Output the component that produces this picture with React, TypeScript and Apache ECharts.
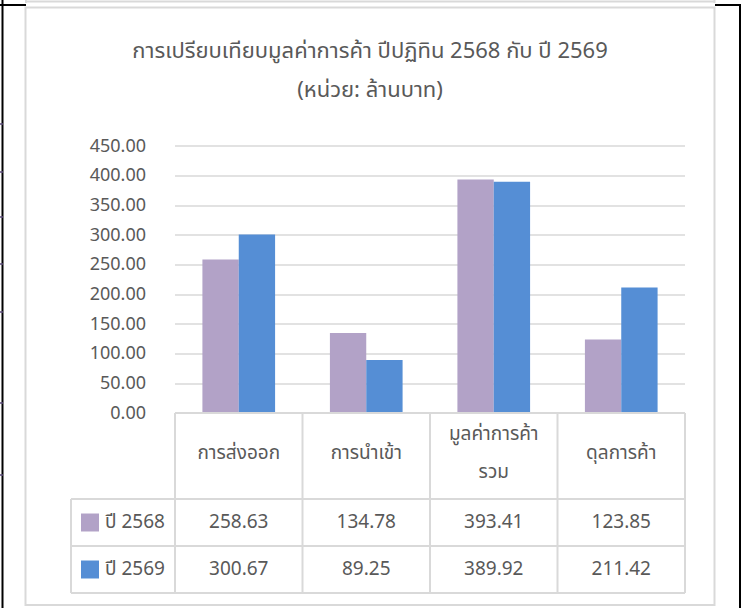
import React, { useEffect, useRef } from "react";
import * as echarts from "echarts";

const titleLines = ["การเปรียบเทียบมูลค่าการค้า ปีปฏิทิน 2568 กับ ปี 2569", "(หน่วย: ล้านบาท)"];
const categories = ["การส่งออก", "การนำเข้า", "มูลค่าการค้ารวม", "ดุลการค้า"];
const seriesNames = ["ปี 2568", "ปี 2569"];
const values2568 = [258.63, 134.78, 393.41, 123.85];
const values2569 = [300.67, 89.25, 389.92, 211.42];
const yTicks = [0, 50, 100, 150, 200, 250, 300, 350, 400, 450];

const COLORS = ["#B2A2C7", "#558ED5"];
const TEXT = "#595959";
const GRID = "#d9d9d9";
const FONT = "'Noto Sans Thai', 'Leelawadee UI', Tahoma, 'Noto Sans', 'DejaVu Sans', sans-serif";

const W = 743;
const H = 608;
const PL = 175;
const PR = 685;
const PT = 146;
const PB = 413;
const ROW1 = 499;
const ROW2 = 546;
const ROW3 = 593;
const LEGX = 71;

function wrapLabel(s: string) {
  return s === "มูลค่าการค้ารวม" ? "มูลค่าการค้า\nรวม" : s;
}

export default function App() {
  const ref = useRef<HTMLDivElement>(null);
  useEffect(() => {
    document.body.style.margin = "0";
    if (!ref.current) return;
    const chart = echarts.init(ref.current, undefined, { renderer: "svg" });
    const colW = (PR - PL) / categories.length;
    const g: any[] = [];
    const line = (x1: number, y1: number, x2: number, y2: number, stroke: string, lw: number) =>
      g.push({ type: "line", silent: true, z: 10, shape: { x1, y1, x2, y2 }, style: { stroke, lineWidth: lw } });

    // outer black lines & neighbouring frame fragments
    line(2.5, 0, 2.5, H, "#000", 2);
    line(0, 5, 26, 5, "#000", 2);
    line(715, 5, 741, 5, "#000", 2);
    line(740, 5, 740, H, "#000", 2);
    line(25, 1.5, 715, 1.5, GRID, 2);
    line(26, 0, 26, 3, GRID, 2);
    line(714.5, 0, 714.5, 3, GRID, 2);
    [124, 172, 217, 264, 312, 403, 475].forEach((y) => line(0, y, 3, y, "#5a4a7a", 1.5));
    g.push({
      type: "rect",
      silent: true,
      z: 1,
      shape: { x: 25.5, y: 7.5, width: 689, height: 597.5 },
      style: { fill: "none", stroke: GRID, lineWidth: 2 },
    });

    // data table lines
    line(PL, PB, PR, PB, GRID, 2);
    [ROW1, ROW2, ROW3].forEach((y) => line(LEGX, y, PR, y, GRID, 2));
    for (let i = 0; i <= categories.length; i++) {
      const x = PL + colW * i;
      line(x, PB, x, ROW3, GRID, 2);
    }
    line(LEGX, ROW1, LEGX, ROW3, GRID, 2);

    const rows = [values2568, values2569];
    const rowTops = [ROW1, ROW2];
    rows.forEach((vals, r) => {
      const cy = (rowTops[r] + rowTops[r] + (ROW2 - ROW1)) / 2;
      g.push({
        type: "rect",
        silent: true,
        z: 10,
        shape: { x: 81, y: cy - 9, width: 18, height: 18 },
        style: { fill: COLORS[r] },
      });
      g.push({
        type: "text",
        silent: true,
        z: 10,
        x: 105,
        y: cy,
        style: { text: seriesNames[r], fill: TEXT, font: `19px ${FONT}`, textAlign: "left", textVerticalAlign: "middle" },
      });
      vals.forEach((v, i) => {
        g.push({
          type: "text",
          silent: true,
          z: 10,
          x: PL + colW * (i + 0.5),
          y: cy,
          style: { text: v.toFixed(2), fill: TEXT, font: `19px ${FONT}`, textAlign: "center", textVerticalAlign: "middle" },
        });
      });
    });

    chart.setOption({
      animation: false,
      backgroundColor: "#fff",
      textStyle: { fontFamily: FONT },
      title: {
        text: titleLines.join("\n"),
        left: 365,
        top: 27,
        textAlign: "center",
        textStyle: { color: TEXT, fontSize: 22, fontWeight: "normal", lineHeight: 39, fontFamily: FONT },
      },
      grid: { left: PL, right: W - PR, top: PT, bottom: H - PB },
      xAxis: {
        type: "category",
        data: categories,
        axisLine: { show: false },
        axisTick: { show: false },
        axisLabel: {
          color: TEXT,
          fontSize: 19,
          fontFamily: FONT,
          margin: 40,
          lineHeight: 38,
          verticalAlign: "middle",
          interval: 0,
          formatter: (s: string) => wrapLabel(s),
        },
      },
      yAxis: {
        type: "value",
        min: yTicks[0],
        max: yTicks[yTicks.length - 1],
        interval: yTicks[1] - yTicks[0],
        axisLine: { show: false },
        axisTick: { show: false },
        axisLabel: { color: TEXT, fontSize: 18, fontFamily: FONT, margin: 29, formatter: (v: number) => v.toFixed(2) },
        splitLine: { lineStyle: { color: GRID, width: 1.5 } },
      },
      series: [
        {
          name: seriesNames[0],
          type: "bar",
          data: values2568,
          itemStyle: { color: COLORS[0] },
          barGap: "0%",
          barCategoryGap: "43%",
        },
        {
          name: seriesNames[1],
          type: "bar",
          data: values2569,
          itemStyle: { color: COLORS[1] },
          barGap: "0%",
          barCategoryGap: "43%",
        },
      ],
      graphic: { elements: g },
    });
    return () => chart.dispose();
  }, []);
  return <div ref={ref} style={{ width: W, height: H }} />;
}
